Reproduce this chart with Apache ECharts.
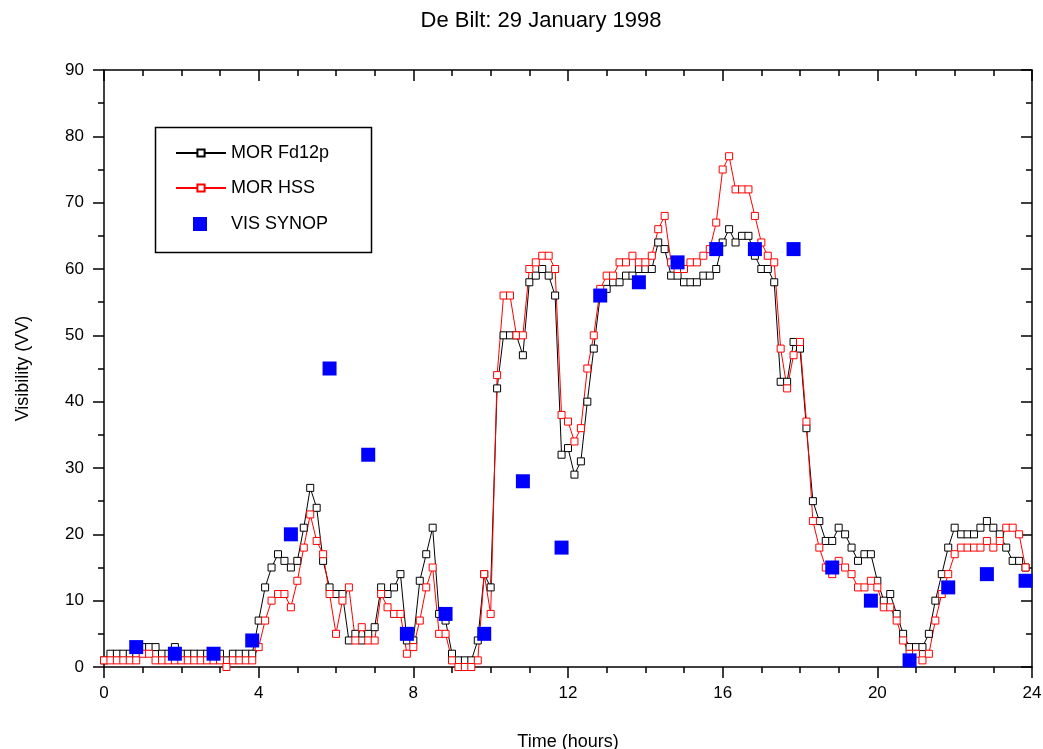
<!DOCTYPE html>
<html>
<head>
<meta charset="utf-8">
<script src="https://cdn.jsdelivr.net/npm/echarts@6/dist/echarts.min.js"></script>
<style>
  html, body { margin: 0; padding: 0; background: #fff; }
  #chart { width: 1043px; height: 749px; }
</style>
</head>
<body>
<div id="chart"></div>
<script>
// MOR Fd12p, every 10 minutes from 00:00
var fd12p = [
  1,2,2,2,2,2,3,3,3,2,2,3,2,2,2,2,2,2,2,1,2,2,2,2,
  7,12,15,17,16,15,16,21,27,24,16,12,11,11,4,5,4,5,6,12,11,12,14,4,4,13,17,21,8,7,2,1,1,1,4,14,12,
  42,50,50,50,47,58,59,60,59,56,32,33,29,31,40,48,
  56,57,58,58,59,59,60,60,60,64,63,59,59,58,58,58,59,59,60,64,66,64,65,65,62,60,60,58,
  43,43,49,48,36,
  25,22,19,19,21,20,18,16,17,17,13,10,11,8,5,3,3,3,5,10,14,18,21,20,20,20,21,22,21,20,18,16,16,15
];
// MOR HSS, same times
var hss = [
  1,1,1,1,1,1,2,2,1,1,1,1,1,1,1,1,1,1,1,0,1,1,1,1,
  3,7,10,11,11,9,13,18,23,19,17,11,5,10,12,4,6,4,4,11,9,8,8,2,3,7,12,15,5,5,1,0,0,0,1,14,8,
  44,56,56,50,50,60,61,62,62,60,38,37,34,36,45,50,
  57,59,59,61,61,62,61,61,62,66,68,61,60,60,61,61,62,63,67,75,77,72,72,72,68,64,62,61,
  48,42,47,49,37,
  22,18,15,14,16,15,14,12,12,13,12,9,9,7,4,2,2,1,2,7,11,14,17,18,18,18,18,19,18,19,21,21,20,15
];
// VIS SYNOP, hourly at hh:50
var synopHours = [0,1,2,3,4,5,6,7,8,9,10,11,12,13,14,15,16,17,18,19,20,21,22,23];
var synop = [3,2,2,4,20,45,32,5,8,5,28,18,56,58,61,63,63,63,15,10,1,12,14,13];

var fontName = 'Liberation Sans, Arial, sans-serif';

function pairs(vals, step) {
  return vals.map(function (v, i) { return [i * step, v]; });
}

var fdData = pairs(fd12p, 1 / 6);
var hssData = pairs(hss, 1 / 6);
var synopData = synop.map(function (v, i) { return [synopHours[i] + 50 / 60, v]; });

var chart = echarts.init(document.getElementById('chart'));

function xAx(pos, inside) {
  return {
    type: 'value', position: pos, min: 0, max: 24, interval: 4,
    name: pos === 'bottom' ? 'Time (hours)' : '',
    nameLocation: 'middle', nameGap: 66,
    nameTextStyle: {fontFamily: fontName, fontSize: 18, color: '#000'},
    axisLine: {show: true, onZero: false, lineStyle: {color: '#000', width: 1.5}},
    axisTick: {show: true, inside: inside, length: 11, lineStyle: {color: '#000', width: 1.5}},
    minorTick: {show: true, splitNumber: 4, length: 6, lineStyle: {color: '#000', width: 1.5}},
    axisLabel: {show: pos === 'bottom', margin: 18, fontFamily: fontName, fontSize: 17, color: '#000'},
    splitLine: {show: false}
  };
}
function yAx(pos, inside) {
  return {
    type: 'value', position: pos, min: 0, max: 90, interval: 10,
    name: pos === 'left' ? 'Visibility (VV)' : '',
    nameLocation: 'middle', nameGap: 72, nameRotate: 90,
    nameTextStyle: {fontFamily: fontName, fontSize: 18, color: '#000'},
    axisLine: {show: true, onZero: false, lineStyle: {color: '#000', width: 1.5}},
    axisTick: {show: true, inside: inside, length: 11, lineStyle: {color: '#000', width: 1.5}},
    minorTick: {show: true, splitNumber: 2, length: 6, lineStyle: {color: '#000', width: 1.5}},
    axisLabel: {show: pos === 'left', margin: 20, fontFamily: fontName, fontSize: 17, color: '#000'},
    splitLine: {show: false}
  };
}

chart.setOption({
  animation: false,
  backgroundColor: '#fff',
  title: {
    text: 'De Bilt: 29 January 1998',
    left: 541, top: 10, padding: 0, textAlign: 'center',
    textStyle: {fontFamily: fontName, fontSize: 22, fontWeight: 'normal', color: '#000'}
  },
  grid: {left: 104, right: 11, top: 70, bottom: 82, outerBoundsMode: 'none'},
  xAxis: [xAx('bottom', false), xAx('top', true)],
  yAxis: [yAx('left', false), yAx('right', true)],
  legend: [{
    data: ['MOR Fd12p', 'MOR HSS'],
    orient: 'vertical', left: 175, top: 144, padding: 0,
    itemWidth: 50, itemHeight: 9, itemGap: 17,
    textStyle: {fontFamily: fontName, fontSize: 18, color: '#000'}
  }, {
    data: [{name: 'VIS SYNOP', icon: 'rect'}],
    orient: 'vertical', left: 193, top: 215, padding: 0,
    itemWidth: 14, itemHeight: 14,
    textStyle: {fontFamily: fontName, fontSize: 18, color: '#000', padding: [0, 0, 0, 19]}
  }],
  graphic: [{
    type: 'rect', left: 153, top: 125,
    shape: {width: 216, height: 125},
    style: {fill: 'none', stroke: '#000', lineWidth: 1.5}
  }],
  series: [{
    name: 'MOR Fd12p', type: 'line', data: fdData,
    symbol: 'rect', symbolSize: 7, showAllSymbol: true, clip: false,
    lineStyle: {color: '#000', width: 1},
    itemStyle: {color: '#fff', borderColor: '#000', borderWidth: 1}
  }, {
    name: 'MOR HSS', type: 'line', data: hssData,
    symbol: 'rect', symbolSize: 7, showAllSymbol: true, clip: false,
    lineStyle: {color: '#ff0000', width: 1},
    itemStyle: {color: '#fff', borderColor: '#ff0000', borderWidth: 1}
  }, {
    name: 'VIS SYNOP', type: 'scatter', data: synopData, z: 5,
    symbol: 'rect', symbolSize: 14, clip: false,
    itemStyle: {color: '#0000ff', opacity: 1}
  }]
});
</script>
</body>
</html>
